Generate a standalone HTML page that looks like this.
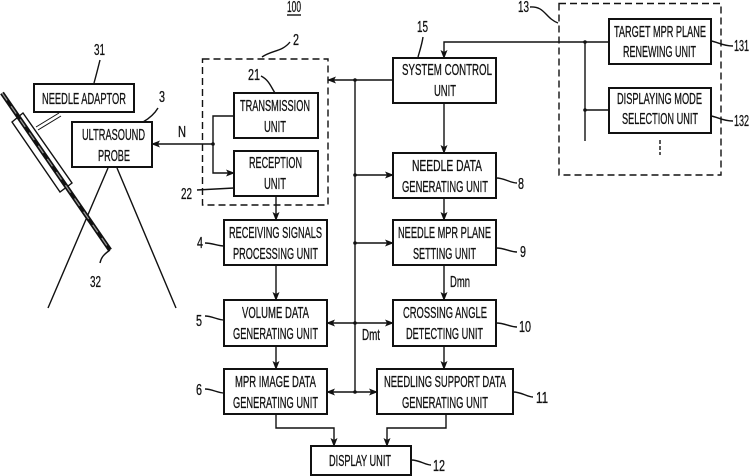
<!DOCTYPE html>
<html><head><meta charset="utf-8"><style>
html,body{margin:0;padding:0;background:#fff;width:749px;height:476px;overflow:hidden}
svg{display:block}
text{font-family:"Liberation Sans",sans-serif;font-size:16px;fill:#111;stroke:#111;stroke-width:.3}
</style></head><body>
<svg width="749" height="476" viewBox="0 0 749 476" xmlns="http://www.w3.org/2000/svg">
<defs><marker id="a" markerWidth="9" markerHeight="7" refX="8" refY="3.5" orient="auto-start-reverse" markerUnits="userSpaceOnUse"><path d="M0 0L9 3.5L0 7L2 3.5Z" fill="#111"/></marker></defs>
<g fill="none" stroke="#111" stroke-width="1.4">
<rect x="202.500" y="59" width="125.500" height="146" stroke-dasharray="7 4"/>
<rect x="559" y="3.500" width="162" height="171.500" stroke-dasharray="7 4"/>
</g>
<g fill="#fff" stroke="#111" stroke-width="2">
<rect x="34" y="84" width="100" height="28"/><rect x="72" y="122" width="80" height="45"/>
<rect x="234" y="93" width="84" height="45"/><rect x="234" y="151" width="84" height="45"/>
<rect x="393" y="58" width="103" height="45"/><rect x="393" y="153" width="103" height="45"/>
<rect x="393" y="220" width="103" height="45"/><rect x="393" y="300" width="103" height="46"/>
<rect x="377" y="369" width="136" height="45"/><rect x="224" y="220" width="103" height="45"/>
<rect x="224" y="300" width="103" height="46"/><rect x="224" y="369" width="103" height="45"/>
<rect x="311" y="446" width="100" height="29"/><rect x="609" y="19" width="102" height="45"/>
<rect x="609" y="88" width="102" height="45"/>
</g>
<g fill="none" stroke="#111" stroke-width="1.400">
<path d="M355 80V392"/><path d="M393 80H328" marker-end="url(#a)"/><path d="M355 175H393" marker-end="url(#a)"/>
<path d="M355 243H393" marker-end="url(#a)"/>
<path d="M327 323H393" marker-start="url(#a)" marker-end="url(#a)"/>
<path d="M327 392H377" marker-start="url(#a)" marker-end="url(#a)"/>
<path d="M609 42H444V58" marker-end="url(#a)"/><path d="M585 42V141"/><path d="M585 110H609"/>
<path d="M660 140V155" stroke-dasharray="4 2"/>
<path d="M444 103V153" marker-end="url(#a)"/><path d="M444 198V220" marker-end="url(#a)"/>
<path d="M444 265V300" marker-end="url(#a)"/><path d="M444 346V369" marker-end="url(#a)"/>
<path d="M276 196V220" marker-end="url(#a)"/><path d="M276 265V300" marker-end="url(#a)"/>
<path d="M276 346V369" marker-end="url(#a)"/>
<path d="M276 414V428H334V446" marker-end="url(#a)"/><path d="M446 414V428H387V446" marker-end="url(#a)"/>
<path d="M213 144H152" marker-end="url(#a)"/><path d="M234 116H213V173H234" marker-end="url(#a)"/>
<path d="M108 168L48 308M117 168L176 308"/>
<!-- sleeve and adaptor link -->
<path d="M36 127L59 113M38 130L61 116" stroke-width="1"/>
<path d="M12 122L23 113L72 183L60 192Z" fill="#fff"/>
<path d="M2 93L110 250" stroke-width="4.500"/>
<path d="M2 93L110 250" stroke="#999" stroke-width="1.200" stroke-dasharray="9 7"/>
<!-- leaders -->
<path d="M94 83C96 76 98 68 100 60"/><path d="M143 122C150 118 155 113 158 108"/>
<path d="M110 250C103 255 101 258 100 263"/>
<path d="M262 57C272 50 282 52 290 42"/><path d="M261 76C269 80 271 87 275 93"/>
<path d="M197 190L234 188"/><path d="M423 37C422 44 420 50 418 57"/>
<path d="M530 7C545 6 545 18 558 23"/>
<path d="M711 41C718 42 722 46 733 46"/><path d="M711 116C718 117 722 121 733 121"/>
<path d="M496 178C505 178 510 183 517 183"/><path d="M496 248C505 248 510 252 517 252"/>
<path d="M496 323C505 323 510 327 517 327"/><path d="M513 392C522 392 527 397 533 397"/>
<path d="M411 460C420 460 425 465 431 465"/>
<path d="M205 243C212 243 218 246 224 246M205 316C212 316 218 320 224 320M205 389C212 389 218 393 224 393"/>
<path d="M287 15H301"/>
</g>
<g fill="#111"><circle cx="355" cy="80" r="1.800"/><circle cx="355" cy="175" r="1.800"/><circle cx="355" cy="243" r="1.800"/><circle cx="355" cy="323" r="1.800"/><circle cx="355" cy="392" r="1.800"/><circle cx="585" cy="42" r="1.800"/><circle cx="585" cy="110" r="1.800"/><circle cx="213" cy="144" r="1.800"/></g>
<g lengthAdjust="spacingAndGlyphs">
<text x="42" y="104" textLength="84" lengthAdjust="spacingAndGlyphs">NEEDLE ADAPTOR</text>
<text x="82" y="140" textLength="63" lengthAdjust="spacingAndGlyphs">ULTRASOUND</text>
<text x="98" y="161" textLength="32" lengthAdjust="spacingAndGlyphs">PROBE</text>
<text x="240" y="111" textLength="70" lengthAdjust="spacingAndGlyphs">TRANSMISSION</text>
<text x="264" y="132" textLength="22" lengthAdjust="spacingAndGlyphs">UNIT</text>
<text x="249" y="168" textLength="53" lengthAdjust="spacingAndGlyphs">RECEPTION</text>
<text x="264" y="189" textLength="22" lengthAdjust="spacingAndGlyphs">UNIT</text>
<text x="402" y="75" textLength="90" lengthAdjust="spacingAndGlyphs">SYSTEM CONTROL</text>
<text x="434" y="96" textLength="22" lengthAdjust="spacingAndGlyphs">UNIT</text>
<text x="412" y="171" textLength="70" lengthAdjust="spacingAndGlyphs">NEEDLE DATA</text>
<text x="402" y="192" textLength="86" lengthAdjust="spacingAndGlyphs">GENERATING UNIT</text>
<text x="398" y="238" textLength="93" lengthAdjust="spacingAndGlyphs">NEEDLE MPR PLANE</text>
<text x="413" y="259" textLength="63" lengthAdjust="spacingAndGlyphs">SETTING UNIT</text>
<text x="403" y="318" textLength="84" lengthAdjust="spacingAndGlyphs">CROSSING ANGLE</text>
<text x="406" y="339" textLength="77" lengthAdjust="spacingAndGlyphs">DETECTING UNIT</text>
<text x="384" y="387" textLength="122" lengthAdjust="spacingAndGlyphs">NEEDLING SUPPORT DATA</text>
<text x="402" y="408" textLength="86" lengthAdjust="spacingAndGlyphs">GENERATING UNIT</text>
<text x="229" y="238" textLength="93" lengthAdjust="spacingAndGlyphs">RECEIVING SIGNALS</text>
<text x="233" y="259" textLength="85" lengthAdjust="spacingAndGlyphs">PROCESSING UNIT</text>
<text x="242" y="318" textLength="67" lengthAdjust="spacingAndGlyphs">VOLUME DATA</text>
<text x="233" y="339" textLength="85" lengthAdjust="spacingAndGlyphs">GENERATING UNIT</text>
<text x="235" y="387" textLength="81" lengthAdjust="spacingAndGlyphs">MPR IMAGE DATA</text>
<text x="233" y="408" textLength="85" lengthAdjust="spacingAndGlyphs">GENERATING UNIT</text>
<text x="329" y="466" textLength="62" lengthAdjust="spacingAndGlyphs">DISPLAY UNIT</text>
<text x="614" y="37" textLength="92" lengthAdjust="spacingAndGlyphs">TARGET MPR PLANE</text>
<text x="623" y="57" textLength="73" lengthAdjust="spacingAndGlyphs">RENEWING UNIT</text>
<text x="617" y="104" textLength="85" lengthAdjust="spacingAndGlyphs">DISPLAYING MODE</text>
<text x="622" y="124" textLength="76" lengthAdjust="spacingAndGlyphs">SELECTION UNIT</text>
<text x="287" y="12" textLength="14" lengthAdjust="spacingAndGlyphs">100</text>
<text x="293" y="45" textLength="6" lengthAdjust="spacingAndGlyphs">2</text>
<text x="248" y="80" textLength="12" lengthAdjust="spacingAndGlyphs">21</text>
<text x="94" y="55" textLength="11" lengthAdjust="spacingAndGlyphs">31</text>
<text x="159" y="102" textLength="6" lengthAdjust="spacingAndGlyphs">3</text>
<text x="178" y="137" textLength="8" lengthAdjust="spacingAndGlyphs">N</text>
<text x="181" y="199" textLength="11" lengthAdjust="spacingAndGlyphs">22</text>
<text x="197" y="248" textLength="6" lengthAdjust="spacingAndGlyphs">4</text>
<text x="196" y="326" textLength="6" lengthAdjust="spacingAndGlyphs">5</text>
<text x="196" y="395" textLength="6" lengthAdjust="spacingAndGlyphs">6</text>
<text x="90" y="287" textLength="11" lengthAdjust="spacingAndGlyphs">32</text>
<text x="417" y="32" textLength="11" lengthAdjust="spacingAndGlyphs">15</text>
<text x="518" y="12" textLength="11" lengthAdjust="spacingAndGlyphs">13</text>
<text x="734" y="51" textLength="15" lengthAdjust="spacingAndGlyphs">131</text>
<text x="734" y="126" textLength="15" lengthAdjust="spacingAndGlyphs">132</text>
<text x="518" y="189" textLength="6" lengthAdjust="spacingAndGlyphs">8</text>
<text x="520" y="257" textLength="6" lengthAdjust="spacingAndGlyphs">9</text>
<text x="519" y="332" textLength="12" lengthAdjust="spacingAndGlyphs">10</text>
<text x="536" y="403" textLength="12" lengthAdjust="spacingAndGlyphs">11</text>
<text x="433" y="471" textLength="12" lengthAdjust="spacingAndGlyphs">12</text>
<text x="450" y="287" textLength="20" lengthAdjust="spacingAndGlyphs">Dmn</text>
<text x="362" y="340" textLength="18" lengthAdjust="spacingAndGlyphs">Dmt</text>
</g>
</svg>
</body></html>
